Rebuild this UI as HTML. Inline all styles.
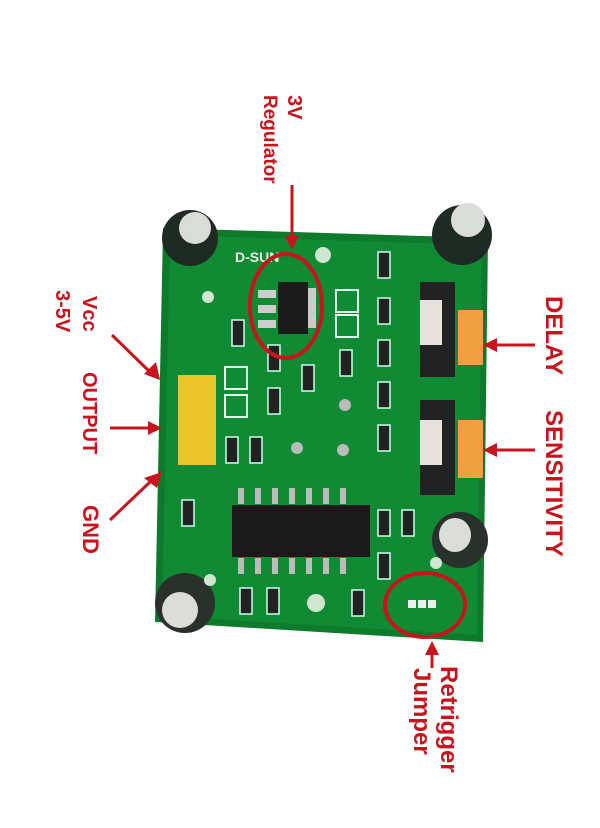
<!DOCTYPE html>
<html><head><style>body{margin:0;background:#fff}svg{display:block}</style></head><body>
<svg width="600" height="828" viewBox="0 0 600 828" xmlns="http://www.w3.org/2000/svg" font-family="Liberation Sans, sans-serif">
<rect width="600" height="828" fill="#fff"/>
<polygon points="163,228 488,238 483,642 155,622" fill="#0d7a2c"/>
<polygon points="170,235 482,245 477,635 162,616" fill="#108a33"/>
<g>
<circle cx="190" cy="238" r="28" fill="#1f2a24"/><ellipse cx="195" cy="228" rx="16" ry="16" fill="#d9dcd8"/>
<circle cx="462" cy="235" r="30" fill="#1f2a24"/><ellipse cx="468" cy="220" rx="17" ry="17" fill="#dadcd8"/>
<circle cx="185" cy="603" r="30" fill="#2a302c"/><ellipse cx="180" cy="610" rx="18" ry="18" fill="#dcdcd8"/>
<circle cx="460" cy="540" r="28" fill="#2a302c"/><ellipse cx="455" cy="535" rx="16" ry="17" fill="#dcdcd8"/>
</g>
<circle cx="323" cy="255" r="8" fill="#cfe6cf"/><circle cx="208" cy="297" r="6" fill="#cfe6cf"/>
<circle cx="316" cy="603" r="9" fill="#cfe6cf"/><circle cx="210" cy="580" r="6" fill="#cfe6cf"/><circle cx="436" cy="563" r="6" fill="#cfe6cf"/>
<text x="235" y="262" fill="#e8f4e8" font-size="14" font-weight="bold">D-SUN</text>
<rect x="278" y="282" width="30" height="52" fill="#1b1b1b"/>
<rect x="258" y="290" width="18" height="8" fill="#ccc"/><rect x="258" y="305" width="18" height="8" fill="#ccc"/><rect x="258" y="320" width="18" height="8" fill="#ccc"/>
<rect x="308" y="288" width="8" height="40" fill="#ccc"/>
<rect x="232" y="505" width="138" height="52" fill="#1a1a1a"/>
<g fill="#bbb">
<rect x="238" y="488" width="6" height="16"/><rect x="255" y="488" width="6" height="16"/><rect x="272" y="488" width="6" height="16"/><rect x="289" y="488" width="6" height="16"/><rect x="306" y="488" width="6" height="16"/><rect x="323" y="488" width="6" height="16"/><rect x="340" y="488" width="6" height="16"/>
<rect x="238" y="558" width="6" height="16"/><rect x="255" y="558" width="6" height="16"/><rect x="272" y="558" width="6" height="16"/><rect x="289" y="558" width="6" height="16"/><rect x="306" y="558" width="6" height="16"/><rect x="323" y="558" width="6" height="16"/><rect x="340" y="558" width="6" height="16"/>
</g>
<rect x="178" y="375" width="38" height="90" fill="#e8c42a"/>
<rect x="420" y="282" width="35" height="95" fill="#222"/><rect x="420" y="300" width="22" height="45" fill="#e8e2dc"/><rect x="458" y="310" width="25" height="55" fill="#f0a040"/>
<rect x="420" y="400" width="35" height="95" fill="#222"/><rect x="420" y="420" width="22" height="45" fill="#e8e2dc"/><rect x="458" y="420" width="25" height="58" fill="#f0a040"/>
<rect x="336" y="290" width="22" height="22" fill="none" stroke="#dfe" stroke-width="2"/><rect x="336" y="315" width="22" height="22" fill="none" stroke="#dfe" stroke-width="2"/>
<rect x="225" y="367" width="22" height="22" fill="none" stroke="#dfe" stroke-width="2"/><rect x="225" y="395" width="22" height="22" fill="none" stroke="#dfe" stroke-width="2"/>
<g fill="#222" stroke="#cfe" stroke-width="1.5">
<rect x="378" y="252" width="12" height="26"/><rect x="378" y="298" width="12" height="26"/><rect x="378" y="340" width="12" height="26"/><rect x="378" y="382" width="12" height="26"/><rect x="378" y="425" width="12" height="26"/>
<rect x="232" y="320" width="12" height="26"/><rect x="268" y="345" width="12" height="26"/><rect x="268" y="388" width="12" height="26"/><rect x="302" y="365" width="12" height="26"/><rect x="340" y="350" width="12" height="26"/>
<rect x="226" y="437" width="12" height="26"/><rect x="250" y="437" width="12" height="26"/><rect x="182" y="500" width="12" height="26"/>
<rect x="240" y="588" width="12" height="26"/><rect x="267" y="588" width="12" height="26"/><rect x="352" y="590" width="12" height="26"/>
<rect x="378" y="510" width="12" height="26"/><rect x="378" y="553" width="12" height="26"/><rect x="402" y="510" width="12" height="26"/>
</g>
<rect x="408" y="600" width="8" height="8" fill="#eee"/><rect x="418" y="600" width="8" height="8" fill="#eee"/><rect x="428" y="600" width="8" height="8" fill="#eee"/>
<circle cx="297" cy="448" r="6" fill="#bbb"/><circle cx="345" cy="405" r="6" fill="#bbb"/><circle cx="343" cy="450" r="6" fill="#bbb"/>
<ellipse cx="286" cy="306" rx="36" ry="52" fill="none" stroke="#c8141c" stroke-width="4"/>
<ellipse cx="425" cy="605" rx="40" ry="32" fill="none" stroke="#c8141c" stroke-width="4"/>
<g stroke="#c8141c" stroke-width="3" fill="#c8141c">
<line x1="292" y1="185" x2="292" y2="240"/><polygon points="285,236 299,236 292,250" stroke="none"/>
<line x1="112" y1="335" x2="150" y2="372"/><polygon points="144,374 156,362 160,380" stroke="none"/>
<line x1="110" y1="428" x2="150" y2="428"/><polygon points="148,421 148,435 162,428" stroke="none"/>
<line x1="110" y1="520" x2="150" y2="482"/><polygon points="144,478 157,488 162,472" stroke="none"/>
<line x1="535" y1="345" x2="495" y2="345"/><polygon points="497,338 497,352 483,345" stroke="none"/>
<line x1="535" y1="450" x2="495" y2="450"/><polygon points="497,443 497,457 483,450" stroke="none"/>
<line x1="432" y1="668" x2="432" y2="652"/><polygon points="425,655 439,655 432,641" stroke="none"/>
</g>
<g fill="#c8141c" font-weight="bold">
<text transform="translate(288,95) rotate(90)" font-size="20">3V</text>
<text transform="translate(264,95) rotate(90)" font-size="19">Regulator</text>
<text transform="translate(83,296) rotate(90)" font-size="20">Vcc</text>
<text transform="translate(56,290) rotate(90)" font-size="20">3-5V</text>
<text transform="translate(83,372) rotate(90)" font-size="20">OUTPUT</text>
<text transform="translate(83,505) rotate(90)" font-size="22">GND</text>
<text transform="translate(546,296) rotate(90)" font-size="24">DELAY</text>
<text transform="translate(546,410) rotate(90)" font-size="24">SENSITIVITY</text>
<text transform="translate(441,666) rotate(90)" font-size="24">Retrigger</text>
<text transform="translate(414,668) rotate(90)" font-size="24">Jumper</text>
</g>
</svg>
</body></html>
